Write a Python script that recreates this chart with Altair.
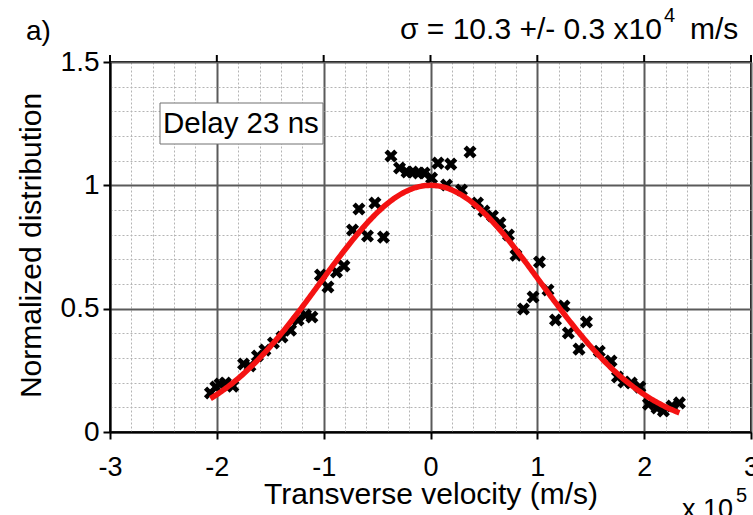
import altair as alt
import numpy as np
import pandas as pd

# Measured transverse velocity (units of 1e5 m/s) and normalized distribution
VELOCITY = [
    -2.06, -2.01, -1.97, -1.92, -1.85, -1.75, -1.69, -1.62, -1.55, -1.47,
    -1.39, -1.31, -1.24, -1.17, -1.11, -1.03, -0.96, -0.88, -0.81, -0.73,
    -0.67, -0.59, -0.52, -0.44, -0.37, -0.29, -0.22, -0.17, -0.11, -0.06,
    0.01, 0.07, 0.15, 0.19, 0.29, 0.37, 0.44, 0.50, 0.58, 0.65,
    0.73, 0.80, 0.87, 0.96, 1.02, 1.10, 1.17, 1.25, 1.29, 1.39,
    1.46, 1.58, 1.69, 1.75, 1.81, 1.88, 1.96, 2.04, 2.12, 2.18,
    2.26, 2.33,
]
DISTRIBUTION = [
    0.158, 0.182, 0.195, 0.199, 0.186, 0.276, 0.268, 0.308, 0.332, 0.361,
    0.385, 0.413, 0.454, 0.474, 0.466, 0.636, 0.588, 0.649, 0.673, 0.819,
    0.904, 0.795, 0.928, 0.790, 1.119, 1.070, 1.054, 1.054, 1.050, 1.050,
    1.030, 1.090, 1.001, 1.086, 0.981, 1.135, 0.928, 0.896, 0.876, 0.847,
    0.799, 0.717, 0.499, 0.547, 0.689, 0.576, 0.454, 0.511, 0.401, 0.336,
    0.446, 0.327, 0.288, 0.223, 0.203, 0.199, 0.182, 0.113, 0.097, 0.085,
    0.105, 0.118,
]

# Gaussian fit: sigma = 10.3 x 10^4 m/s = 1.03 x 10^5 m/s
SIGMA = 1.03
FIT_START, FIT_END = -2.06, 2.33

X_TICKS = [round(-3 + 0.2 * i, 1) for i in range(31)]
Y_TICKS = [round(0.1 * i, 1) for i in range(16)]
X_MAJOR = [-3, -2, -1, 0, 1, 2, 3]
Y_MAJOR = [0, 0.5, 1, 1.5]

FONT = "Liberation Sans"

points = pd.DataFrame({"v": VELOCITY, "n": DISTRIBUTION})
fit_v = np.linspace(FIT_START, FIT_END, 300)
fit = pd.DataFrame({"v": fit_v, "n": np.exp(-fit_v ** 2 / (2 * SIGMA ** 2))})
top_ticks = pd.DataFrame({"v": X_MAJOR})

MAJOR = sorted(set(X_MAJOR) | set(Y_MAJOR))
major = "indexof([{}], datum.value) >= 0".format(", ".join(str(v) for v in MAJOR))


def cond(major_value, minor_value):
    return {"condition": {"test": major, "value": major_value}, "value": minor_value}


x_scale = alt.Scale(domain=[-3, 3], nice=False, zero=False)
y_scale = alt.Scale(domain=[0, 1.5], nice=False, zero=False)

GRID_MAJOR = "#5a5a5a"
GRID_MINOR = "#b4b4b4"

x_axis = alt.Axis(
    orient="bottom",
    values=X_TICKS,
    labelExpr=f"{major} ? '' + datum.value : ''",
    labelOverlap=False,
    labelFlush=False,
    labelFont=FONT,
    labelFontSize=27,
    labelColor="black",
    labelBaseline="alphabetic",
    labelPadding=36,
    tickSize=7,
    tickWidth=2,
    tickColor="black",
    tickOpacity=cond(1, 0),
    domainColor="black",
    domainWidth=2,
    grid=True,
    gridColor=cond(GRID_MAJOR, GRID_MINOR),
    gridWidth=cond(2, 1),
    gridDash=cond([], [2, 2]),
    title="Transverse velocity (m/s)",
    titleFont=FONT,
    titleFontSize=30,
    titleFontWeight="normal",
    titleColor="black",
    titleBaseline="alphabetic",
    titleY=71,
)

y_axis = alt.Axis(
    orient="left",
    values=Y_TICKS,
    labelExpr=f"{major} ? '' + datum.value : ''",
    labelOverlap=False,
    labelFlush=False,
    labelFont=FONT,
    labelFontSize=28,
    labelColor="black",
    labelPadding=4,
    tickSize=7,
    tickWidth=2,
    tickColor="black",
    tickOpacity=cond(1, 0),
    domainColor="black",
    domainWidth=2,
    grid=True,
    gridColor=cond(GRID_MAJOR, GRID_MINOR),
    gridWidth=cond(2, 1),
    gridDash=cond([], [2, 2]),
    title="Normalized distribution",
    titleFont=FONT,
    titleFontSize=30,
    titleFontWeight="normal",
    titleColor="black",
    titleAngle=-90,
    titleBaseline="alphabetic",
    titleAlign="center",
    titleX=-70,
    titleY=183,
)

X_PATH = ("M -1 -0.5 L -0.5 -1 L 0 -0.5 L 0.5 -1 L 1 -0.5 L 0.5 0 "
          "L 1 0.5 L 0.5 1 L 0 0.5 L -0.5 1 L -1 0.5 L -0.5 0 Z")


def vx():
    return alt.X("v:Q", scale=x_scale, axis=x_axis)


def ny():
    return alt.Y("n:Q", scale=y_scale, axis=y_axis)


scatter = alt.Chart(points).mark_point(
    shape=X_PATH, filled=True, color="black", opacity=1, size=170
).encode(x=vx(), y=ny())

curve = alt.Chart(fit).mark_line(color="#f41212", strokeWidth=5.5).encode(
    x=vx(), y=ny()
)

# Short outward ticks on the top frame at the integer velocities
top_marks = alt.Chart(top_ticks).mark_rule(color="black", strokeWidth=2).encode(
    x=vx(),
    y=alt.value(-7),
    y2=alt.value(0),
)

label_box = alt.Chart(pd.DataFrame({"k": [0]})).mark_rect(
    fill="white", stroke="#707070", strokeWidth=1
).encode(x=alt.value(50), x2=alt.value(213), y=alt.value(41), y2=alt.value(82))


def text_layer(txt, x, y, size, align="left"):
    return alt.Chart(pd.DataFrame({"t": [txt]})).mark_text(
        font=FONT, fontSize=size, color="black", align=align, baseline="alphabetic"
    ).encode(text="t:N", x=alt.value(x), y=alt.value(y))


texts = [
    text_layer("Delay 23 ns", 53, 71, 29.5),
    text_layer("a)", -84, -22, 28),
    text_layer("\u03c3 = 10.3 +/- 0.3 x10", 552, -23, 30, align="right"),
    text_layer("4", 554, -40, 20),
    text_layer("m/s", 580, -23, 30),
    text_layer("x 10", 623, 456, 27, align="right"),
    text_layer("5", 626, 440, 20),
]

chart = alt.layer(scatter, curve, top_marks, label_box, *texts).properties(
    width=641,
    height=370,
    autosize=alt.AutoSizeParams(type="none"),
    padding={"left": 110, "top": 62, "right": 2, "bottom": 83},
).configure_view(stroke="black", strokeWidth=2)

chart.save("out.html", embed_options={"renderer": "svg", "actions": False})
